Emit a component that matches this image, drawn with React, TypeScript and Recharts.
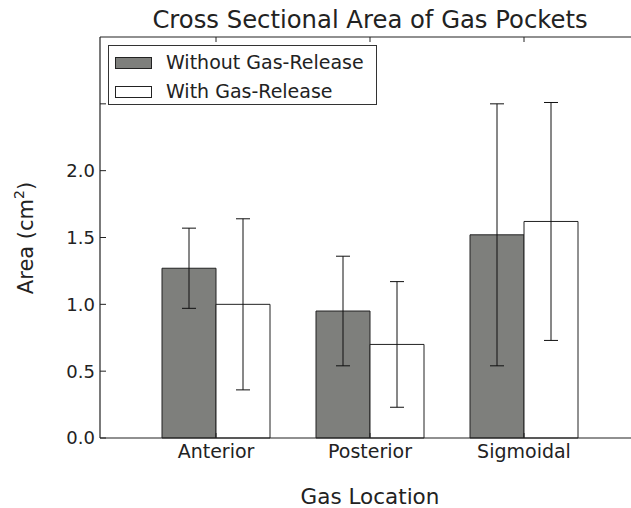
import { BarChart, Bar, XAxis, YAxis, ErrorBar, Legend, Label } from 'recharts';

const categories = ['Anterior', 'Posterior', 'Sigmoidal'];
const withoutRelease = [1.27, 0.95, 1.52];
const withoutErr = [0.3, 0.41, 0.98];
const withRelease = [1.0, 0.7, 1.62];
const withErr = [0.64, 0.47, 0.89];
const yTicks = [0, 0.5, 1.0, 1.5, 2.0, 2.5];
const yLabelMax = 2.0;

const series = [
  { key: 'without', err: 'withoutErr', name: 'Without Gas-Release', fill: '#7e7f7c' },
  { key: 'with', err: 'withErr', name: 'With Gas-Release', fill: '#ffffff' },
];

const data = categories.map((name, i) => ({
  name,
  without: withoutRelease[i],
  withoutErr: withoutErr[i],
  with: withRelease[i],
  withErr: withErr[i],
}));

const FONT = '"DejaVu Sans", sans-serif';
const INK = '#222';

const YTick = (props: any) => {
  const { x, y, payload } = props;
  const axisX = x + 5;
  return (
    <g>
      <line x1={axisX} x2={axisX + 6} y1={y} y2={y} stroke={INK} strokeWidth={1} />
      {payload.value <= yLabelMax && (
        <text x={x} y={y} dy="0.36em" textAnchor="end" fontSize={18} fontFamily={FONT} fill={INK}>
          {payload.value.toFixed(1)}
        </text>
      )}
    </g>
  );
};

const BottomTick = (props: any) => {
  const { x, y, payload } = props;
  return (
    <g>
      <line x1={x} x2={x} y1={y - 5} y2={y} stroke={INK} strokeWidth={1} />
      <text x={x} y={y + 19.5} textAnchor="middle" fontSize={19} fontFamily={FONT} fill={INK}>
        {payload.value}
      </text>
    </g>
  );
};

const TopTick = (props: any) => {
  const { x, y } = props;
  return <line x1={x} x2={x} y1={y} y2={y + 5} stroke={INK} strokeWidth={1} />;
};

const LegendBox = () => (
  <div
    style={{
      position: 'relative',
      width: 269,
      height: 60,
      border: '1px solid #333',
      background: '#fff',
      boxSizing: 'border-box',
      fontFamily: FONT,
      fontSize: 19,
      color: INK,
    }}
  >
    {series.map((s, i) => (
      <div key={s.key}>
        <div
          style={{
            position: 'absolute',
            left: 6,
            top: 11 + i * 28.5,
            width: 37,
            height: 12,
            background: s.fill,
            border: '1px solid #222',
            boxSizing: 'border-box',
          }}
        />
        <div
          style={{
            position: 'absolute',
            left: 57,
            top: 4 + i * 28.5,
            lineHeight: '24px',
            whiteSpace: 'nowrap',
          }}
        >
          {s.name}
        </div>
      </div>
    ))}
  </div>
);

export default function App() {
  return (
    <div
      style={{
        position: 'absolute',
        left: 0,
        top: 0,
        width: 631,
        height: 508,
        overflow: 'hidden',
        background: '#fff',
      }}
    >
      <BarChart
        width={640}
        height={508}
        data={data}
        margin={{ top: 36, right: 0, bottom: 0, left: 0 }}
        barGap={0}
        barSize={54}
      >
        <XAxis
          dataKey="name"
          height={70}
          padding={{ left: 39, right: 39 }}
          axisLine={{ stroke: INK, strokeWidth: 1.2 }}
          tickLine={false}
          tickSize={0}
          tickMargin={0}
          tick={<BottomTick />}
          interval={0}
        >
          <Label
            content={(p: any) => {
              const vb = p.viewBox || { x: 100, width: 540 };
              return (
                <text x={vb.x + vb.width / 2} y={504} textAnchor="middle" fontSize={21.5} fontFamily={FONT} fill={INK}>
                  Gas Location
                </text>
              );
            }}
          />
        </XAxis>
        <XAxis
          xAxisId="top"
          dataKey="name"
          orientation="top"
          height={1}
          padding={{ left: 39, right: 39 }}
          axisLine={{ stroke: INK, strokeWidth: 1.2 }}
          tickLine={false}
          tickSize={0}
          tickMargin={0}
          tick={<TopTick />}
          interval={0}
        >
          <Label
            content={(p: any) => {
              const vb = p.viewBox || { x: 100, width: 540 };
              return (
                <text x={vb.x + vb.width / 2} y={28.3} textAnchor="middle" fontSize={24.3} fontFamily={FONT} fill={INK}>
                  Cross Sectional Area of Gas Pockets
                </text>
              );
            }}
          />
        </XAxis>
        <YAxis
          width={100}
          domain={[0, 3]}
          ticks={yTicks}
          type="number"
          axisLine={{ stroke: INK, strokeWidth: 1.2 }}
          tickLine={false}
          tickSize={0}
          tickMargin={5}
          tick={<YTick />}
          interval={0}
        >
          <Label
            content={() => (
              <text
                x={33}
                y={238}
                transform="rotate(-90 33 238)"
                textAnchor="middle"
                fontSize={21}
                fontFamily={FONT}
                fill={INK}
              >
                Area (cm
                <tspan fontSize={14} dy={-9}>2</tspan>
                <tspan dy={9}>)</tspan>
              </text>
            )}
          />
        </YAxis>
        <Legend
          layout="horizontal"
          verticalAlign="middle"
          align="center"
          wrapperStyle={{ position: 'absolute', left: 108, top: 45, width: 269, height: 60 }}
          content={() => <LegendBox />}
        />
        {series.map((s) => (
          <Bar
            key={s.key}
            dataKey={s.key}
            name={s.name}
            fill={s.fill}
            stroke="#222"
            strokeWidth={1}
            isAnimationActive={false}
          >
            <ErrorBar dataKey={s.err} width={7} stroke="#111" strokeWidth={1} direction="y" />
          </Bar>
        ))}
      </BarChart>
    </div>
  );
}
